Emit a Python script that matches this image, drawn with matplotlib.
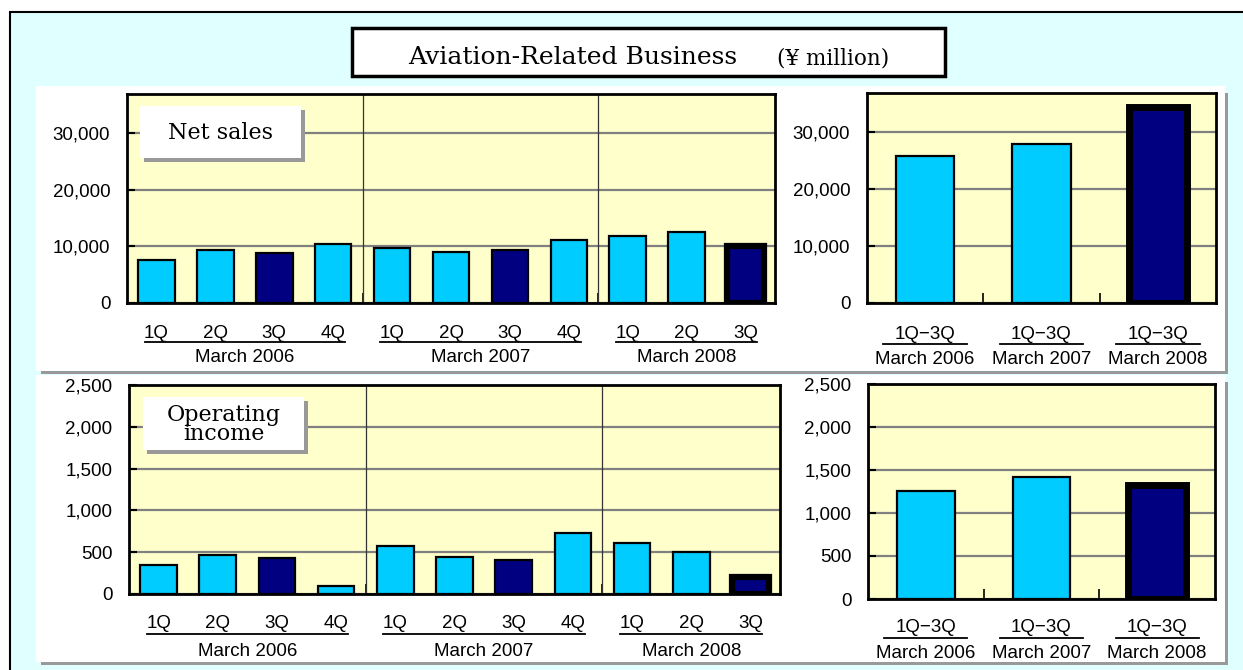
import matplotlib
matplotlib.use("Agg")
import matplotlib.pyplot as plt
from matplotlib.patches import Rectangle
from matplotlib.ticker import FuncFormatter
import matplotlib.transforms as mtrans

# data (yen million)
quarters = ['1Q', '2Q', '3Q', '4Q', '1Q', '2Q', '3Q', '4Q', '1Q', '2Q', '3Q']
years = ['March 2006', 'March 2007', 'March 2008']
year_groups = [(0, 3), (4, 7), (8, 10)]
net_sales_q = [7650, 9290, 8820, 10470, 9700, 9000, 9290, 11060, 11820, 12470, 10100]
net_sales_cum = [25760, 27990, 34390]
op_income_q = [347, 466, 435, 100, 570, 443, 407, 726, 610, 502, 200]
op_income_cum = [1254, 1421, 1320]
cum_label = '1Q\u22123Q'

LIGHT = '#00CCFF'
DARK = '#000080'
PLOT_BG = '#FFFFCC'
SANS = 'Liberation Sans'
SERIF = 'DejaVu Serif'
W, H = 1243, 670

plt.rcParams['font.family'] = [SANS, 'DejaVu Sans']

fig = plt.figure(figsize=(W / 100, H / 100), dpi=100)
fig.patch.set_facecolor('white')


def box(x0, y0, x1, y1):
    # pixel box -> figure fraction rect
    return [x0 / W, 1 - y1 / H, (x1 - x0) / W, (y1 - y0) / H]


# background layer in pixel coordinates
bg = fig.add_axes([0, 0, 1, 1], zorder=-10)
bg.set_xlim(0, W)
bg.set_ylim(H, 0)
bg.axis('off')
bg.add_patch(Rectangle((10, 12), W, H, fc='#E0FFFF', ec='black', lw=1.5))
for (x0, y0, x1, y1) in [(36, 86, 1225, 371), (36, 375, 1225, 662)]:
    bg.add_patch(Rectangle((x0 + 5, y0 + 7), x1 - x0 - 2, y1 - y0 - 4, fc='#999999', ec='none'))
    bg.add_patch(Rectangle((x0, y0), x1 - x0, y1 - y0, fc='white', ec='none'))
bg.add_patch(Rectangle((352, 28), 593, 48, fc='white', ec='black', lw=2.5))
bg.text(408, 57, 'Aviation-Related Business', fontsize=18, family=SERIF, ha='left', va='center')
bg.text(777, 59, '(\u00a5 million)', fontsize=15.5, family=SERIF, ha='left', va='center')


def fmt(v, _):
    return f'{int(v):,}'


def style_axes(ax, ymax, step):
    ax.set_facecolor(PLOT_BG)
    ax.set_ylim(0, ymax)
    ax.set_yticks(range(0, int(ymax) + 1, step))
    ax.yaxis.set_major_formatter(FuncFormatter(fmt))
    ax.yaxis.grid(True, color='#808080', lw=1.6)
    ax.set_axisbelow(True)
    for s in ax.spines.values():
        s.set_linewidth(2)
    ax.tick_params(axis='y', direction='in', length=6, width=1.5, pad=12, labelsize=13.5)
    ax.tick_params(axis='x', which='major', direction='in', length=7, width=1.2, labelbottom=False)
    ax.tick_params(axis='x', which='minor', length=0, labelsize=13.5)


def under_labels(ax, groups, names, y_under, y_name, half):
    tr_line = mtrans.offset_copy(ax.get_xaxis_transform(), fig=fig, y=-y_under, units='dots')
    for (a, b), name in zip(groups, names):
        ax.plot([a - half, b + half], [0, 0], color='black', lw=1.3,
                transform=tr_line, clip_on=False)
        ax.annotate(name, xy=((a + b) / 2, 0), xycoords=ax.get_xaxis_transform(),
                    xytext=(0, -y_name), textcoords='offset pixels', ha='center',
                    va='center', fontsize=13.5, annotation_clip=False)


def quarter_panel(rect, values, ymax, step, pad, y_under, y_name):
    ax = fig.add_axes(rect, zorder=1)
    n = len(values)
    x = list(range(n))
    colors = [DARK if q == '3Q' else LIGHT for q in quarters]
    bars = ax.bar(x, values, width=0.62, color=colors, edgecolor='black', lw=1.6, zorder=3)
    bars[-1].set_linewidth(4.5)
    ax.set_xlim(-0.5, n - 0.5)
    style_axes(ax, ymax, step)
    for sep in (3.5, 7.5):
        ax.axvline(sep, color='#333333', lw=0.9, zorder=2)
    ax.set_xticks([3.5, 7.5])
    ax.set_xticks(x, minor=True)
    ax.set_xticklabels(quarters, minor=True)
    ax.tick_params(axis='x', which='minor', pad=pad)
    under_labels(ax, year_groups, years, y_under, y_name, 0.2)
    return ax


def total_panel(rect, values, ymax, step, pad, y_under, y_name):
    ax = fig.add_axes(rect, zorder=1)
    x = list(range(len(values)))
    bars = ax.bar(x, values, width=0.5, color=[LIGHT, LIGHT, DARK], edgecolor='black', lw=1.6, zorder=3)
    bars[-1].set_linewidth(5)
    ax.set_xlim(-0.5, len(values) - 0.5)
    style_axes(ax, ymax, step)
    ax.set_xticks([0.5, 1.5])
    ax.set_xticks(x, minor=True)
    ax.set_xticklabels([cum_label] * len(values), minor=True)
    ax.tick_params(axis='x', which='minor', pad=pad)
    under_labels(ax, [(i, i) for i in x], years, y_under, y_name, 0.36)
    return ax


quarter_panel(box(127, 94, 775, 303), net_sales_q, 36900, 10000, 16, 39, 55)
total_panel(box(867, 93, 1216, 303), net_sales_cum, 36900, 10000, 16.5, 41, 57)
quarter_panel(box(129, 385, 780, 594), op_income_q, 2500, 500, 15, 40, 57)
total_panel(box(868, 384, 1215, 599), op_income_cum, 2500, 500, 14.5, 39, 54)

# overlay layer for the series name boxes
ov = fig.add_axes([0, 0, 1, 1], zorder=10)
ov.set_xlim(0, W)
ov.set_ylim(H, 0)
ov.axis('off')
ov.patch.set_alpha(0)
for (x0, y0, x1, y1), label in [((140, 106, 301, 158), 'Net sales'),
                                ((143, 397, 304, 450), 'Operating\nincome')]:
    ov.add_patch(Rectangle((x0 + 4, y0 + 4), x1 - x0, y1 - y0, fc='#999999', ec='none'))
    ov.add_patch(Rectangle((x0, y0), x1 - x0, y1 - y0, fc='white', ec='none'))
    ov.text((x0 + x1) / 2, (y0 + y1) / 2 + 1, label, fontsize=16, family=SERIF,
            ha='center', va='center', linespacing=0.85)

fig.savefig('out.png', dpi=100)
